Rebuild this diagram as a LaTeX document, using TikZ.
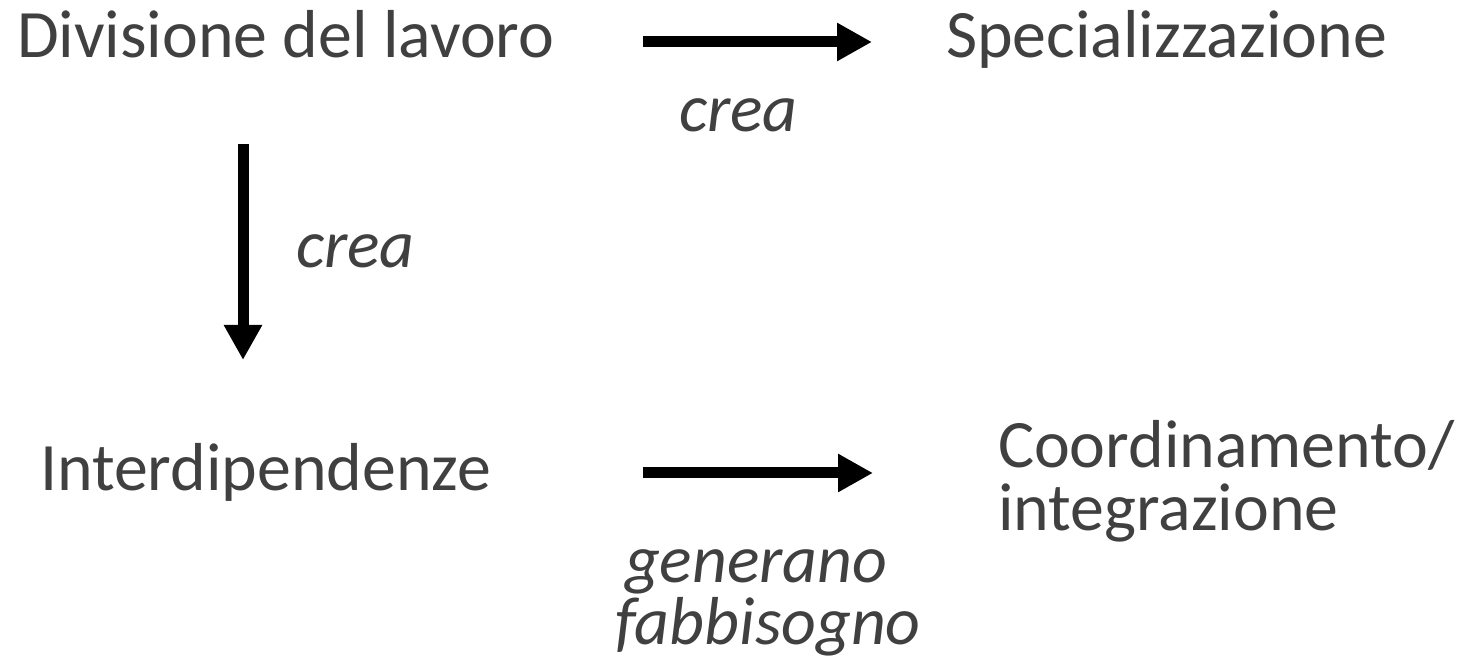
\documentclass[tikz,border=0pt]{standalone}
\usepackage{fontspec}
\setmainfont{Carlito}
\usetikzlibrary{arrows.meta}
\definecolor{txt}{HTML}{404040}
\begin{document}
\begin{tikzpicture}[x=1cm,y=1cm,
  lbl/.style={inner sep=0pt, outer sep=0pt, anchor=base west, text=txt, font=\fontsize{19.3pt}{23pt}\selectfont},
  ilbl/.style={lbl, font=\fontsize{19.3pt}{23pt}\selectfont\itshape},
  arr/.style={line width=0.11cm, -{Triangle[length=0.35cm,width=0.36cm]}, black}]
\useasboundingbox (0,0) rectangle (14.61,-6.56);
\node[lbl] (div) at (0.17,-0.58) {Divisione del lavoro};
\node[lbl] (spec) at (9.46,-0.58) {Specializzazione};
\node[ilbl] (crea1) at (6.79,-1.32) {crea};
\node[ilbl] (crea2) at (2.96,-2.68) {crea};
\node[lbl] (inter) at (0.40,-4.91) {Interdipendenze};
\node[lbl] (coord) at (9.98,-4.68) {Coordinamento/};
\node[lbl] (integ) at (9.98,-5.31) {integrazione};
\node[ilbl] (gen) at (6.25,-5.82) {generano};
\node[ilbl] (fab) at (6.15,-6.44) {fabbisogno};
\coordinate (a1s) at (6.43,-0.42);
\coordinate (a1e) at (8.72,-0.42);
\coordinate (a2s) at (2.43,-1.44);
\coordinate (a2e) at (2.43,-3.60);
\coordinate (a3s) at (6.43,-4.73);
\coordinate (a3e) at (8.73,-4.73);
\draw[arr] (a1s) -- (a1e);
\draw[arr] (a2s) -- (a2e);
\draw[arr] (a3s) -- (a3e);
\end{tikzpicture}
\end{document}
